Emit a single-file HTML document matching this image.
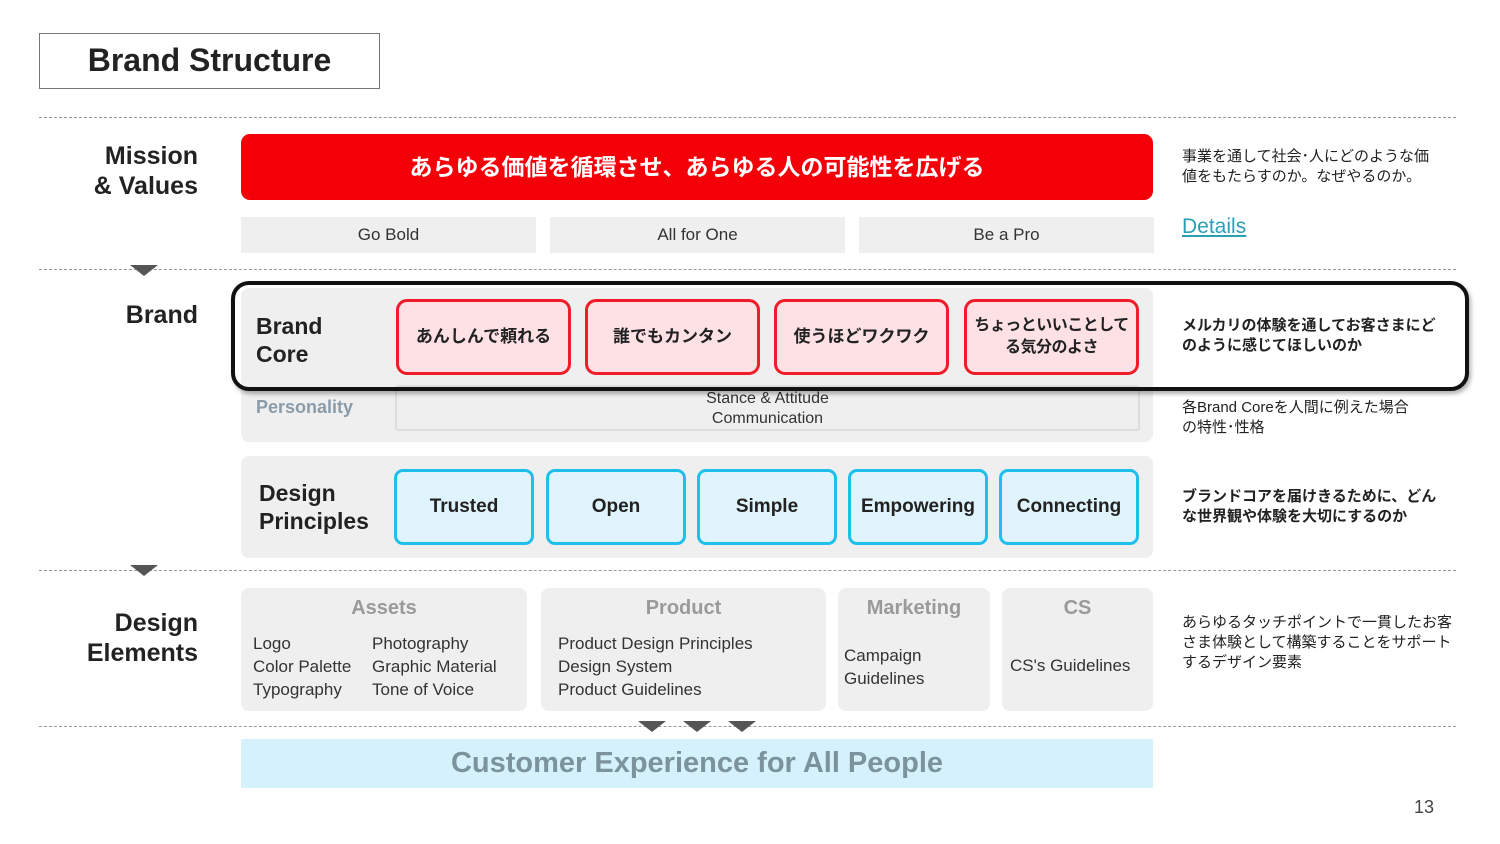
<!DOCTYPE html>
<html><head><meta charset="utf-8"><style>
*{margin:0;padding:0;box-sizing:border-box}
body{width:1500px;height:844px;background:#fff;position:relative;overflow:hidden;font-family:"Liberation Sans","Noto Sans CJK JP",sans-serif;color:#222}
.a{position:absolute}
.dash{position:absolute;left:39px;width:1417px;border-top:1.5px dashed #999;height:0}
.tri{position:absolute;width:0;height:0;border-left:14px solid transparent;border-right:14px solid transparent;border-top:11px solid #555}
.lbl{position:absolute;text-align:right;font-weight:bold;font-size:25px;line-height:30px;color:#222;right:1302px}
.gray{position:absolute;background:#efefef;border-radius:8px}
.val{position:absolute;top:217px;height:36px;width:295px;background:#efefef;font-size:17px;line-height:36px;text-align:center;color:#333}
.pink{position:absolute;top:299px;height:76px;width:175px;background:#fde1e4;border:3px solid #f01c2a;border-radius:11px;display:flex;align-items:center;justify-content:center;text-align:center;font-weight:bold;font-size:17px;line-height:22px;white-space:nowrap}
.cyan{position:absolute;top:469px;height:76px;width:140px;background:#dff4fc;border:3px solid #1fbfec;border-radius:9px;display:flex;align-items:center;justify-content:center;font-weight:bold;font-size:19px}
.note{position:absolute;left:1182px;font-size:15px;line-height:20px;font-weight:bold;color:#222;white-space:nowrap}
.hd{position:absolute;top:597px;font-weight:bold;font-size:20px;color:#9a9a9a;text-align:center}
.tx{position:absolute;font-size:17px;line-height:23px;color:#333}
</style></head><body>
<div class="a" style="left:39px;top:33px;width:341px;height:56px;border:1.5px solid #777;font-weight:bold;font-size:32px;line-height:53px;text-align:center">Brand Structure</div>

<div class="dash" style="top:117px"></div>
<div class="dash" style="top:269px"></div>
<div class="dash" style="top:570px"></div>
<div class="dash" style="top:726px"></div>
<div class="tri" style="left:130px;top:265px"></div>
<div class="tri" style="left:130px;top:565px"></div>
<div class="tri" style="left:638px;top:721px"></div>
<div class="tri" style="left:683px;top:721px"></div>
<div class="tri" style="left:728px;top:721px"></div>

<div class="lbl" style="top:141px">Mission<br>&amp; Values</div>
<div class="lbl" style="top:300px">Brand</div>
<div class="lbl" style="top:608px">Design<br>Elements</div>

<div class="a" style="left:241px;top:134px;width:912px;height:66px;background:#f40008;border-radius:9px;color:#fff;font-weight:bold;font-size:23px;line-height:66px;text-align:center">あらゆる価値を循環させ、あらゆる人の可能性を広げる</div>
<div class="val" style="left:241px">Go Bold</div>
<div class="val" style="left:550px">All for One</div>
<div class="val" style="left:859px">Be a Pro</div>

<div class="note" style="top:147px;font-weight:normal">事業を通して社会･人にどのような価<br>値をもたらすのか。なぜやるのか。</div>
<div class="a" style="left:1182px;top:215px;font-size:21px;color:#2a9fb5;text-decoration:underline">Details</div>

<div class="gray" style="left:241px;top:288px;width:912px;height:154px"></div>
<div class="a" style="left:256px;top:312px;font-weight:bold;font-size:23px;line-height:28px">Brand<br>Core</div>
<div class="pink" style="left:396px">あんしんで頼れる</div>
<div class="pink" style="left:585px">誰でもカンタン</div>
<div class="pink" style="left:774px">使うほどワクワク</div>
<div class="pink" style="left:964px;font-size:16px;letter-spacing:-0.5px">ちょっといいことして<br>る気分のよさ</div>
<div class="a" style="left:256px;top:397px;font-weight:bold;font-size:18px;color:#8a9caa">Personality</div>
<div class="a" style="left:395px;top:385px;width:745px;height:46px;border:2px solid #ddd;border-radius:3px;text-align:center;font-size:16px;line-height:20px;color:#333;padding-top:2px">Stance &amp; Attitude<br>Communication</div>
<div class="note" style="top:316px">メルカリの体験を通してお客さまにど<br>のように感じてほしいのか</div>
<div class="note" style="top:398px;font-weight:normal">各Brand Coreを人間に例えた場合<br>の特性･性格</div>
<div class="a" style="left:231px;top:281px;width:1238px;height:110px;border:4px solid #111;border-radius:18px;box-shadow:2px 3px 4px rgba(0,0,0,.3)"></div>

<div class="gray" style="left:241px;top:456px;width:912px;height:102px"></div>
<div class="a" style="left:259px;top:479px;font-weight:bold;font-size:23px;line-height:28px">Design<br>Principles</div>
<div class="cyan" style="left:394px">Trusted</div>
<div class="cyan" style="left:546px">Open</div>
<div class="cyan" style="left:697px">Simple</div>
<div class="cyan" style="left:848px">Empowering</div>
<div class="cyan" style="left:999px">Connecting</div>
<div class="note" style="top:487px">ブランドコアを届けきるために、どん<br>な世界観や体験を大切にするのか</div>

<div class="gray" style="left:241px;top:588px;width:286px;height:123px"></div>
<div class="gray" style="left:541px;top:588px;width:285px;height:123px"></div>
<div class="gray" style="left:838px;top:588px;width:152px;height:123px"></div>
<div class="gray" style="left:1002px;top:588px;width:151px;height:123px"></div>
<div class="hd" style="left:241px;width:286px">Assets</div>
<div class="hd" style="left:541px;width:285px">Product</div>
<div class="hd" style="left:838px;width:152px">Marketing</div>
<div class="hd" style="left:1002px;width:151px">CS</div>
<div class="tx" style="left:253px;top:632px">Logo<br>Color Palette<br>Typography</div>
<div class="tx" style="left:372px;top:632px">Photography<br>Graphic Material<br>Tone of Voice</div>
<div class="tx" style="left:558px;top:632px">Product Design Principles<br>Design System<br>Product Guidelines</div>
<div class="tx" style="left:844px;top:644px">Campaign<br>Guidelines</div>
<div class="tx" style="left:1010px;top:654px">CS's Guidelines</div>
<div class="note" style="top:613px;font-weight:normal">あらゆるタッチポイントで一貫したお客<br>さま体験として構築することをサポート<br>するデザイン要素</div>

<div class="a" style="left:241px;top:739px;width:912px;height:49px;background:#d5f1fb;text-align:center;font-weight:bold;font-size:29px;line-height:49px;color:#7b939c">Customer Experience for All People</div>
<div class="a" style="left:1414px;top:797px;font-size:18px;color:#444">13</div>
</body></html>
